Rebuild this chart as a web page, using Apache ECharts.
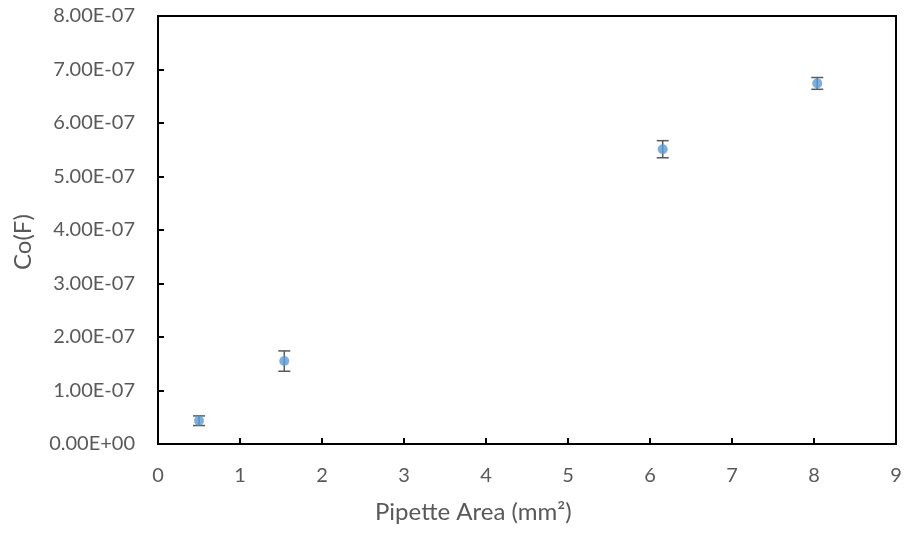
<!DOCTYPE html>
<html>
<head>
<meta charset="utf-8">
<script src="https://cdn.jsdelivr.net/npm/echarts@6/dist/echarts.min.js"></script>
<style>html,body{margin:0;padding:0;background:#fff}#c{width:907px;height:533px}</style>
</head>
<body>
<div id="c"></div>
<script>
var xValues = [0.50, 1.54, 6.155, 8.04];
var yValues = [4.35e-8, 1.55e-7, 5.51e-7, 6.74e-7];
var yErrors = [0.9e-8, 1.9e-8, 1.6e-8, 1.1e-8];
var xTicks = [0, 1, 2, 3, 4, 5, 6, 7, 8, 9];
var yTickLabels = ['0.00E+00','1.00E-07','2.00E-07','3.00E-07','4.00E-07','5.00E-07','6.00E-07','7.00E-07','8.00E-07'];

function fmtSci(v) {
  if (Math.abs(v) < 1e-20) return '0.00E+00';
  var e = Math.floor(Math.log10(Math.abs(v)) + 1e-9);
  var m = v / Math.pow(10, e);
  var s = e < 0 ? '-' : '+';
  var ae = Math.abs(e);
  return m.toFixed(2) + 'E' + s + (ae < 10 ? '0' : '') + ae;
}

var chart = echarts.init(document.getElementById('c'));
var font = 'Lato, "Open Sans", sans-serif';
var pts = xValues.map(function (x, i) { return [x, yValues[i]]; });
var errs = xValues.map(function (x, i) { return [x, yValues[i] - yErrors[i], yValues[i] + yErrors[i]]; });

chart.setOption({
  backgroundColor: '#fff',
  animation: false,
  grid: { left: 158, right: 11, top: 16, bottom: 89, show: true, borderColor: '#000', borderWidth: 2, backgroundColor: 'transparent' },
  xAxis: {
    type: 'value', min: 0, max: 9, interval: 1,
    axisLine: { show: true, lineStyle: { color: '#000', width: 2 } },
    axisTick: { show: true, inside: true, length: 6, lineStyle: { color: '#000', width: 2 } },
    axisLabel: { color: '#595959', fontSize: 20, fontFamily: font, margin: 22, formatter: function (v) { return xTicks.indexOf(v) >= 0 ? String(v) : ''; } },
    splitLine: { show: false }
  },
  yAxis: {
    type: 'value', min: 0, max: 8e-7, interval: 1e-7,
    axisLine: { show: true, lineStyle: { color: '#000', width: 2 } },
    axisTick: { show: true, inside: true, length: 6, lineStyle: { color: '#000', width: 2 } },
    axisLabel: { color: '#595959', fontSize: 20, fontFamily: font, margin: 23, formatter: function (v) { var i = Math.round(v / 1e-7); return yTickLabels[i] || fmtSci(v); } },
    splitLine: { show: false }
  },
  graphic: [
    { type: 'text', left: 375, top: 500, style: { text: 'Pipette Area (mm²)', fill: '#595959', font: '24px ' + font } },
    { type: 'text', x: 11, y: 270, rotation: Math.PI / 2, style: { text: 'Co(F)', fill: '#595959', font: '24px ' + font } }
  ],
  series: [
    {
      type: 'custom', z: 1,
      data: errs,
      renderItem: function (params, api) {
        var x = api.value(0);
        var lo = api.coord([x, api.value(1)]);
        var hi = api.coord([x, api.value(2)]);
        var w = 6;
        var st = { stroke: '#595959', lineWidth: 1.5 };
        return { type: 'group', children: [
          { type: 'line', shape: { x1: lo[0], y1: lo[1], x2: hi[0], y2: hi[1] }, style: st },
          { type: 'line', shape: { x1: lo[0] - w, y1: lo[1], x2: lo[0] + w, y2: lo[1] }, style: st },
          { type: 'line', shape: { x1: hi[0] - w, y1: hi[1], x2: hi[0] + w, y2: hi[1] }, style: st }
        ] };
      }
    },
    {
      type: 'scatter', z: 3,
      data: pts,
      symbol: 'circle', symbolSize: 10,
      itemStyle: { color: '#5B9BD5' }
    }
  ]
});
</script>
</body>
</html>
